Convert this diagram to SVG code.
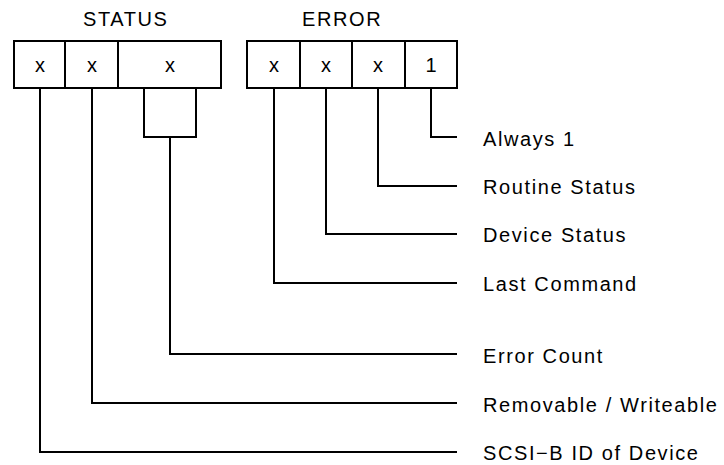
<svg xmlns="http://www.w3.org/2000/svg" width="724" height="465" viewBox="0 0 724 465">
<style>
  .box { fill: #fff; stroke: #000; stroke-width: 2; }
  .ln { fill: none; stroke: #000; stroke-width: 2; }
  text { font-family: "Liberation Sans", Arial, sans-serif; font-size: 20px; fill: #000; letter-spacing: 1.6px; }
  .c { text-anchor: middle; letter-spacing: 0; }
</style>
<rect width="724" height="465" fill="#fff"/>
<g id="status">
  <text x="83" y="25.5">STATUS</text>
  <rect class="box" x="14" y="41" width="207" height="47"/>
  <line class="ln" x1="65" y1="41" x2="65" y2="88"/>
  <line class="ln" x1="118" y1="41" x2="118" y2="88"/>
  <text class="c" x="40" y="72">x</text>
  <text class="c" x="92" y="72">x</text>
  <text class="c" x="170" y="72">x</text>
</g>
<g id="error">
  <text x="302" y="25.5">ERROR</text>
  <rect class="box" x="247" y="41" width="210" height="47"/>
  <line class="ln" x1="300" y1="41" x2="300" y2="88"/>
  <line class="ln" x1="352" y1="41" x2="352" y2="88"/>
  <line class="ln" x1="405" y1="41" x2="405" y2="88"/>
  <text class="c" x="274" y="72">x</text>
  <text class="c" x="326" y="72">x</text>
  <text class="c" x="378" y="72">x</text>
  <text class="c" x="431" y="72">1</text>
</g>
<g id="connectors">
  <polyline class="ln" points="144,88 144,137 196,137 196,88"/>
  <polyline class="ln" points="431,88 431,137 457,137"/>
  <polyline class="ln" points="378,88 378,186 457,186"/>
  <polyline class="ln" points="326,88 326,234 457,234"/>
  <polyline class="ln" points="274,88 274,283 457,283"/>
  <polyline class="ln" points="170,137 170,354 457,354"/>
  <polyline class="ln" points="92,88 92,403 457,403"/>
  <polyline class="ln" points="40,88 40,452 457,452"/>
</g>
<g id="labels">
  <text id="always1" x="483" y="145.5">Always 1</text>
  <text id="routine" x="483" y="194">Routine Status</text>
  <text id="device" x="483" y="242">Device Status</text>
  <text id="lastcmd" x="483" y="291">Last Command</text>
  <text id="errcount" x="483" y="362.5">Error Count</text>
  <text id="removable" x="483" y="411.5">Removable / Writeable</text>
  <text id="scsi" x="483" y="460">SCSI−B ID of Device</text>
</g>
</svg>
